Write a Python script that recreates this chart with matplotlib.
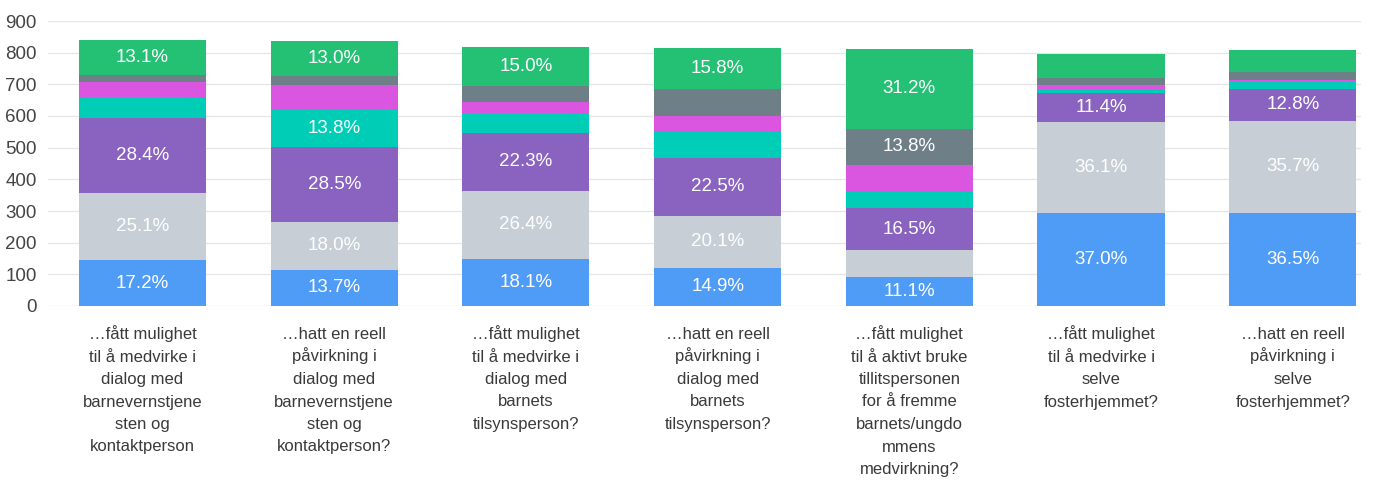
import matplotlib
matplotlib.use("Agg")
import matplotlib.pyplot as plt
import matplotlib.transforms as mtransforms
import numpy as np

plt.rcParams["font.family"] = ["Liberation Sans", "DejaVu Sans"]

categories = [
    "…fått mulighet\ntil å medvirke i\ndialog med\nbarnevernstjene\nsten og\nkontaktperson",
    "…hatt en reell\npåvirkning i\ndialog med\nbarnevernstjene\nsten og\nkontaktperson?",
    "…fått mulighet\ntil å medvirke i\ndialog med\nbarnets\ntilsynsperson?",
    "…hatt en reell\npåvirkning i\ndialog med\nbarnets\ntilsynsperson?",
    "…fått mulighet\ntil å aktivt bruke\ntillitspersonen\nfor å fremme\nbarnets/ungdo\nmmens\nmedvirkning?",
    "…fått mulighet\ntil å medvirke i\nselve\nfosterhjemmet?",
    "…hatt en reell\npåvirkning i\nselve\nfosterhjemmet?",
]

# number of respondents per question
totals = [840, 836, 818, 815, 812, 796, 808]

# share of respondents (%) in each answer level, bottom to top
level_1 = [17.2, 13.7, 18.1, 14.9, 11.1, 37.0, 36.5]
level_2 = [25.1, 18.0, 26.4, 20.1, 10.5, 36.1, 35.7]
level_3 = [28.4, 28.5, 22.3, 22.5, 16.5, 11.4, 12.8]
level_4 = [7.9, 13.8, 7.2, 10.4, 6.8, 1.5, 2.5]
level_5 = [5.5, 9.4, 4.6, 5.9, 10.1, 1.5, 0.9]
level_6 = [2.8, 3.6, 6.4, 10.4, 13.8, 3.1, 3.1]
level_7 = [13.1, 13.0, 15.0, 15.8, 31.2, 9.4, 8.5]

levels = [level_1, level_2, level_3, level_4, level_5, level_6, level_7]
colors = ["#4f9cf7", "#c7ced6", "#8a62c0", "#00cdb6", "#db56e0", "#6f7f88", "#24c074"]

W, H = 1378, 483
fig = plt.figure(figsize=(W / 100, H / 100), dpi=100)
ax = fig.add_axes([48 / W, (H - 306) / H, (1361 - 48) / W, 285 / H])

x = np.arange(len(categories))
tot = np.array(totals, dtype=float)
bottom = np.zeros(len(categories))
for pct, col in zip(levels, colors):
    pct = np.array(pct)
    h = pct * tot / 100.0
    ax.bar(x, h, bottom=bottom, width=0.663, color=col, edgecolor="none", zorder=2)
    for xi, b, hi, p in zip(x, bottom, h, pct):
        if p >= 11:
            ax.text(xi, b + hi / 2, f"{p:.1f}%", ha="center", va="center",
                    color="white", fontsize=13.5, zorder=3)
    bottom += h

ax.set_ylim(0, 900)
ax.set_xlim(-0.493, 6.356)
ax.set_yticks(np.arange(0, 901, 100))
ax.yaxis.grid(True, color="#e4e6e8", linewidth=1.0, zorder=0)
ax.set_axisbelow(True)
for s in ax.spines.values():
    s.set_visible(False)
ax.tick_params(axis="y", length=0, pad=8, labelsize=13.5, labelcolor="#444444")
ax.set_xticks(x)
ax.tick_params(axis="x", length=0, labelbottom=False)

# category labels: one text per line on an even baseline grid below the axis
first_baseline_px = 339.0
line_step_px = 22.5
trans = mtransforms.blended_transform_factory(ax.transData, fig.transFigure)
for xi, label in zip(x, categories):
    for j, line in enumerate(label.split("\n")):
        ypx = first_baseline_px + j * line_step_px
        ax.text(xi, 1 - ypx / H, line, transform=trans, ha="center", va="baseline",
                fontsize=12, color="#3a3a3a", clip_on=False)

fig.savefig("out.png", dpi=100, facecolor="white")
